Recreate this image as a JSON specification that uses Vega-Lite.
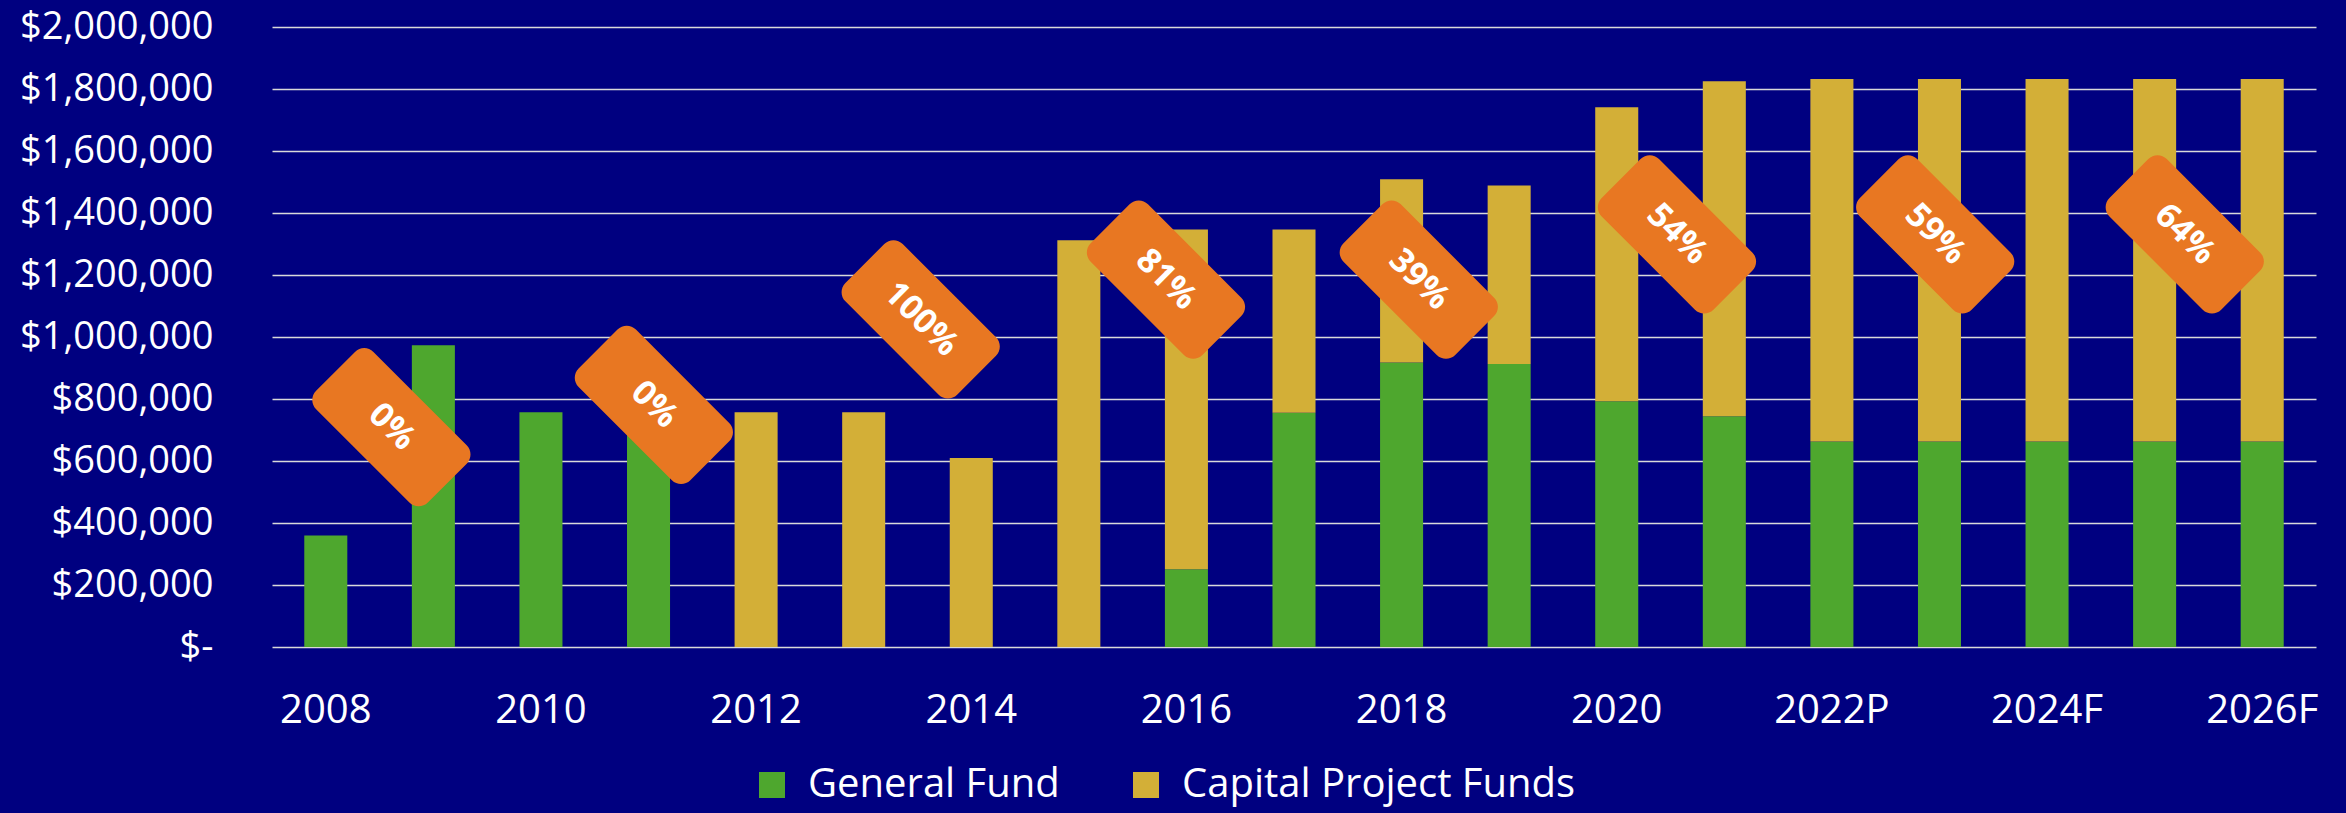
{
  "$schema": "https://vega.github.io/schema/vega-lite/v6.json",
  "width": 2044,
  "height": 620,
  "autosize": {"type": "none"},
  "padding": {"left": 272, "top": 27, "right": 30, "bottom": 166},
  "background": "#000080",
  "config": {
    "view": {"stroke": null},
    "font": "Open Sans",
    "axis": {"labelFont": "Open Sans", "labelColor": "#FFFFFF", "labelFontSize": 40, "labelLimit": 0, "domain": false, "ticks": false, "tickSize": 0, "title": null},
    "legend": {"labelFont": "Open Sans", "labelColor": "#FFFFFF", "labelFontSize": 40, "labelLimit": 0}
  },
  "datasets": {
    "bars": [
      {"year": "2008", "fund": "General Fund", "amount": 360000},
      {"year": "2009", "fund": "General Fund", "amount": 973000},
      {"year": "2010", "fund": "General Fund", "amount": 757000},
      {"year": "2011", "fund": "General Fund", "amount": 757000},
      {"year": "2012", "fund": "Capital Project Funds", "amount": 757000},
      {"year": "2013", "fund": "Capital Project Funds", "amount": 757000},
      {"year": "2014", "fund": "Capital Project Funds", "amount": 610000},
      {"year": "2015", "fund": "Capital Project Funds", "amount": 1312000},
      {"year": "2016", "fund": "General Fund", "amount": 251000},
      {"year": "2016", "fund": "Capital Project Funds", "amount": 1096000},
      {"year": "2017", "fund": "General Fund", "amount": 756000},
      {"year": "2017", "fund": "Capital Project Funds", "amount": 591000},
      {"year": "2018", "fund": "General Fund", "amount": 918000},
      {"year": "2018", "fund": "Capital Project Funds", "amount": 591000},
      {"year": "2019", "fund": "General Fund", "amount": 913000},
      {"year": "2019", "fund": "Capital Project Funds", "amount": 576000},
      {"year": "2020", "fund": "General Fund", "amount": 793000},
      {"year": "2020", "fund": "Capital Project Funds", "amount": 948000},
      {"year": "2021", "fund": "General Fund", "amount": 744000},
      {"year": "2021", "fund": "Capital Project Funds", "amount": 1081000},
      {"year": "2022P", "fund": "General Fund", "amount": 663000},
      {"year": "2022P", "fund": "Capital Project Funds", "amount": 1169000},
      {"year": "2023F", "fund": "General Fund", "amount": 663000},
      {"year": "2023F", "fund": "Capital Project Funds", "amount": 1169000},
      {"year": "2024F", "fund": "General Fund", "amount": 663000},
      {"year": "2024F", "fund": "Capital Project Funds", "amount": 1169000},
      {"year": "2025F", "fund": "General Fund", "amount": 663000},
      {"year": "2025F", "fund": "Capital Project Funds", "amount": 1169000},
      {"year": "2026F", "fund": "General Fund", "amount": 663000},
      {"year": "2026F", "fund": "Capital Project Funds", "amount": 1169000}
    ],
    "labels": [
      {"pos": 2008.61, "level": 709000, "label": "0%"},
      {"pos": 2011.05, "level": 781000, "label": "0%"},
      {"pos": 2013.53, "level": 1057000, "label": "100%"},
      {"pos": 2015.81, "level": 1185000, "label": "81%"},
      {"pos": 2018.16, "level": 1185000, "label": "39%"},
      {"pos": 2020.56, "level": 1331000, "label": "54%"},
      {"pos": 2022.96, "level": 1331000, "label": "59%"},
      {"pos": 2025.28, "level": 1331000, "label": "64%"}
    ]
  },
  "layer": [
    {
      "data": {"name": "bars"},
      "mark": {"type": "bar"},
      "encoding": {
        "x": {
          "field": "year", "type": "nominal", "sort": null,
          "scale": {"paddingInner": 0.6, "paddingOuter": 0.3},
          "axis": {
            "values": ["2008", "2010", "2012", "2014", "2016", "2018", "2020", "2022P", "2024F", "2026F"],
            "labelAngle": 0, "labelPadding": 43, "grid": false
          }
        },
        "y": {
          "field": "amount", "type": "quantitative", "stack": "zero",
          "scale": {"domain": [0, 2000000], "nice": false},
          "axis": {
            "values": [0, 200000, 400000, 600000, 800000, 1000000, 1200000, 1400000, 1600000, 1800000, 2000000],
            "labelExpr": "datum.value == 0 ? '$-' : '$' + format(datum.value, ',')",
            "labelFontSize": 38,
            "labelPadding": 59, "grid": true, "gridColor": "#D9D9D9", "gridWidth": 1.5
          }
        },
        "color": {
          "field": "fund", "type": "nominal",
          "scale": {"domain": ["General Fund", "Capital Project Funds"], "range": ["#4EA72E", "#D3AF37"]},
          "legend": {
            "title": null, "orient": "none", "direction": "horizontal",
            "legendX": 480, "legendY": 738, "padding": 0,
            "symbolType": "square", "symbolSize": 676, "symbolStrokeWidth": 0,
            "labelOffset": 16, "columnPadding": 66
          }
        },
        "order": {"field": "fund", "sort": "descending"}
      }
    },
    {
      "data": {"name": "labels"},
      "layer": [
        {
          "mark": {
            "type": "point", "filled": true, "opacity": 1, "color": "#E87722", "angle": 45, "size": 24964,
            "shape": "M -0.835,-0.513 L 0.835,-0.513 A 0.165,0.165 0 0 1 1,-0.348 L 1,0.348 A 0.165,0.165 0 0 1 0.835,0.513 L -0.835,0.513 A 0.165,0.165 0 0 1 -1,0.348 L -1,-0.348 A 0.165,0.165 0 0 1 -0.835,-0.513 Z"
          },
          "encoding": {
            "x": {"field": "pos", "type": "quantitative", "scale": {"domain": [2007.5, 2026.5], "nice": false, "zero": false}, "axis": null},
            "y": {"field": "level", "type": "quantitative", "scale": {"domain": [0, 2000000], "nice": false}}
          }
        },
        {
          "mark": {"type": "text", "angle": 45, "font": "Open Sans", "fontWeight": "bold", "fontSize": 34, "color": "#FFFFFF", "align": "center", "baseline": "middle"},
          "encoding": {
            "x": {"field": "pos", "type": "quantitative", "scale": {"domain": [2007.5, 2026.5], "nice": false, "zero": false}, "axis": null},
            "y": {"field": "level", "type": "quantitative", "scale": {"domain": [0, 2000000], "nice": false}},
            "text": {"field": "label", "type": "nominal"}
          }
        }
      ]
    }
  ],
  "resolve": {"scale": {"x": "independent"}}
}
